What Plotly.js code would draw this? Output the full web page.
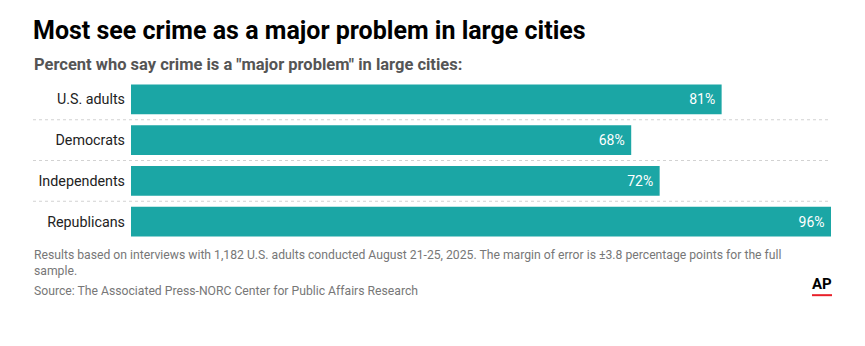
<!DOCTYPE html>
<html><head><meta charset="utf-8">
<script src="https://cdn.plot.ly/plotly-3.0.1.min.js"></script>
<style>html,body{margin:0;padding:0;background:#fff;}#chart{width:865px;height:346px;}</style>
</head><body><div id="chart"></div>
<script>
const categories = ["U.S. adults", "Democrats", "Independents", "Republicans"];
const values = [81, 68.6, 72.5, 96];
const valueLabels = ["81%", "68%", "72%", "96%"];
const titleText = "Most see crime as a major problem in large cities";
const subtitleText = 'Percent who say crime is a "major problem" in large cities:';
const noteText = "Results based on interviews with 1,182 U.S. adults conducted August 21-25, 2025. The margin of error is ±3.8 percentage points for the full<br>sample.";
const sourceText = "Source: The Associated Press-NORC Center for Public Affairs Research";

const teal = "#1ba6a5";
const trace = {
  type: "bar", orientation: "h",
  y: categories, x: values,
  text: valueLabels, texttemplate: "%{text}\u00a0",
  textposition: "inside", insidetextanchor: "end",
  insidetextfont: {family: "Roboto", size: 14, color: "#ffffff"},
  marker: {color: teal}, hoverinfo: "none", cliponaxis: false
};
const shapes = [];
for (let i = 0; i < categories.length - 1; i++) {
  shapes.push({type: "line", xref: "paper", yref: "y", x0: -0.14, x1: 1, y0: i + 0.5, y1: i + 0.5,
    line: {color: "#d2d2d2", width: 1, dash: "dot"}, layer: "below"});
}
shapes.push({type: "line", xref: "paper", yref: "paper", x0: (812 - 131) / 700, x1: (832 - 131) / 700,
  y0: -(296 - 242.5) / 164, y1: -(296 - 242.5) / 164, line: {color: "#e8202a", width: 2}});
const layout = {
  width: 865, height: 346,
  margin: {l: 131, r: 34, t: 78.5, b: 103.5},
  paper_bgcolor: "#fff", plot_bgcolor: "#fff",
  bargap: 0.27, showlegend: false,
  font: {family: "Roboto", color: "#222"},
  xaxis: {visible: false, range: [0, 96], fixedrange: true},
  yaxis: {type: "category", autorange: false, range: [3.5, -0.5], showgrid: false, zeroline: false,
    showline: false, ticks: "", ticklabelstandoff: 5,
    tickfont: {family: "Roboto", size: 14.3, color: "#222"}},
  shapes: shapes,
  annotations: [
    {text: "<b>" + titleText + "</b>", xref: "paper", yref: "paper", x: -(131 - 31) / 700, y: 1 + (78.5 - 29.5) / 164,
      xanchor: "left", yanchor: "middle", showarrow: false, font: {family: "Roboto", size: 25, color: "#000"}},
    {text: "<b>" + subtitleText + "</b>", xref: "paper", yref: "paper", x: -(131 - 32) / 700, y: 1 + (78.5 - 64) / 164,
      xanchor: "left", yanchor: "middle", showarrow: false, font: {family: "Roboto", size: 16.5, color: "#555"}},
    {text: noteText, xref: "paper", yref: "paper", x: -(131 - 32) / 700, y: -(247 - 242.5) / 164,
      xanchor: "left", yanchor: "top", align: "left", showarrow: false,
      font: {family: "Roboto", size: 12.2, color: "#777"}},
    {text: sourceText, xref: "paper", yref: "paper", x: -(131 - 32) / 700, y: -(292 - 242.5) / 164,
      xanchor: "left", yanchor: "middle", align: "left", showarrow: false,
      font: {family: "Roboto", size: 12.2, color: "#777"}},
    {text: "<b>AP</b>", xref: "paper", yref: "paper", x: (822 - 131) / 700, y: -(285 - 242.5) / 164,
      xanchor: "center", yanchor: "middle", showarrow: false,
      font: {family: "Roboto", size: 15, color: "#000"}}
  ]
};
Plotly.newPlot("chart", [trace], layout, {displayModeBar: false, staticPlot: true});
</script></body></html>
